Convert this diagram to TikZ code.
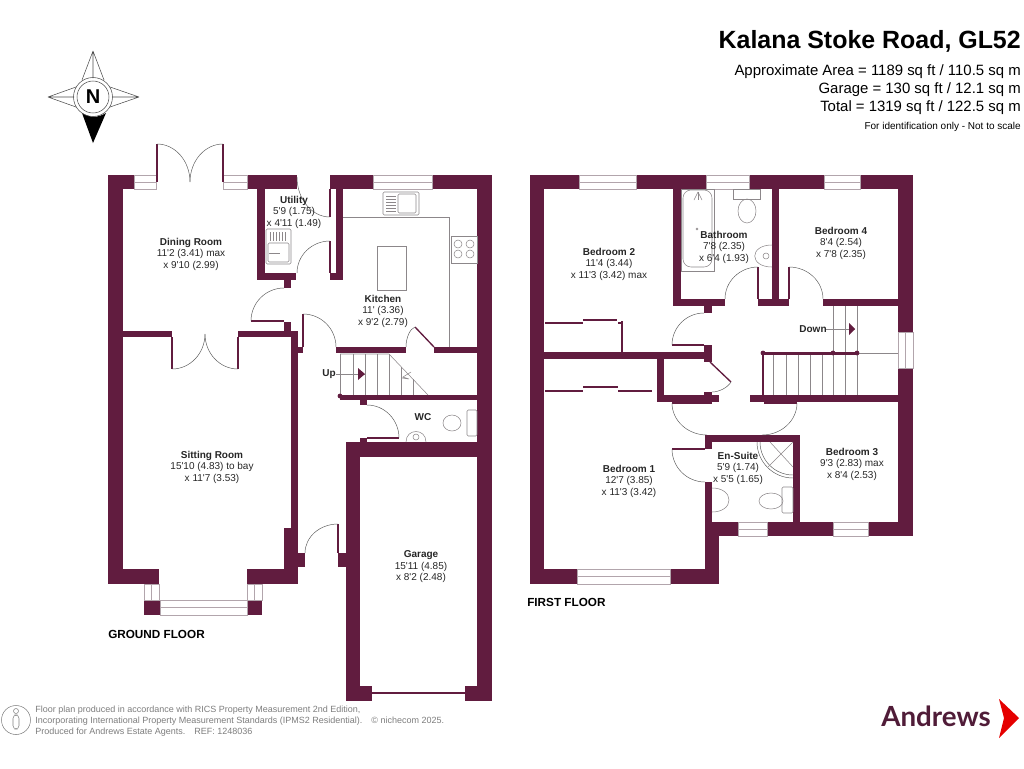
\documentclass[tikz,border=0pt]{standalone}
\usepackage{fontspec}
\usepackage{tikz}
\usetikzlibrary{calc}
\newfontfamily\planfont{Liberation Sans}
\newfontfamily\logofont{Lato}
\definecolor{plumwall}{RGB}{97,28,63}
\definecolor{logoplum}{RGB}{80,28,56}
\definecolor{paneline}{RGB}{178,165,172}
\definecolor{fittingline}{RGB}{140,135,138}
\definecolor{footgrey}{RGB}{125,125,125}
\tikzset{
    wallfill/.style={fill=plumwall},
    paneframe/.style={draw=paneline, fill=white, line width=0.5pt},
    swingline/.style={draw=black!65, line width=0.35pt},
    fitting/.style={draw=fittingline, line width=0.4pt},
    roomlabel/.style={font=\planfont\fontsize{7.5}{8.6}\selectfont, align=center, inner sep=0pt, text=black!85},
    headline/.style={font=\planfont\fontsize{11.2}{13}\selectfont, anchor=east, inner sep=0pt},
    floorlabel/.style={font=\planfont\bfseries\fontsize{8.8}{10}\selectfont, anchor=west, inner sep=0pt},
    footnote/.style={font=\planfont\fontsize{6.75}{8}\selectfont, anchor=west, inner sep=0pt, text=footgrey}
}
\begin{document}
\begin{tikzpicture}[x=0.75pt, y=-0.75pt]
    \useasboundingbox (0,0) rectangle (1024,768);

    % walls, ground floor
    \foreach \xa/\ya/\xb/\yb in {108/175/123/584, 108/175/134/189, 247/175/297/189, 330/175/373/189, 432/175/492/189,
        477/175/492/701, 257/175/265/280, 257/273/296/280, 284/280/291/288, 336/175/343/280, 330/273/343/280,
        123/331/172/337, 238/331/291/337, 284/322/291/331, 291/331/298/584, 284/528/298/584, 298/553/305/567,
        108/569/159/584, 247/569/298/584, 298/347/303/353, 336/347/406/353, 434/347/477/353,
        340/395/477/400, 360/400/367/405, 360/438/367/443, 346/442/492/457, 346/442/360/701,
        338/553/346/567, 360/686/372/701, 465/686/477/701, 372/692/465/694, 144/600/160/615, 247/600/262/615} {
        \fill[wallfill] (\xa,\ya) rectangle (\xb,\yb);
    }
    % walls, first floor
    \foreach \xa/\ya/\xb/\yb in {530/175/544/584, 530/175/579/189, 636/175/706/189, 749/175/824/189, 860/175/913/189,
        898/175/913/332, 898/368/913/536, 673/189/681/306, 673/299/725/306, 704/306/712/313, 758/299/789/306,
        772/189/779/306, 823/299/898/306, 544/352/705/359, 704/345/712/362, 621/321/623/352, 657/359/664/402,
        657/395/719/402, 704/392/712/404, 750/395/898/402, 705/435/800/442, 793/442/800/536, 705/435/712/449,
        705/482/712/584, 712/522/738/536, 767/522/833/536, 868/522/913/536, 705/536/719/584,
        530/569/577/584, 670/569/719/584} {
        \fill[wallfill] (\xa,\ya) rectangle (\xb,\yb);
    }
    % windows
    \foreach \xa/\ya/\xb/\yb in {134/175/156/189, 223/175/247/189, 373/175/432/189, 160/600/247/615,
        579/175/636/189, 706/175/749/189, 824/175/860/189, 738/522/767/536, 833/522/868/536, 577/569/670/584} {
        \draw[paneframe] (\xa,\ya) rectangle (\xb,\yb);
        \draw[paneline, line width=0.4pt] (\xa,{(\ya+\yb)/2}) -- (\xb,{(\ya+\yb)/2});
    }
    \foreach \xa/\ya/\xb/\yb in {144/584/159/600, 247/584/262/600, 898/332/913/368} {
        \draw[paneframe] (\xa,\ya) rectangle (\xb,\yb);
    }
    \draw[paneline, line width=0.4pt] (151,584) -- (151,600) (254,584) -- (254,600) (905,332) -- (905,368);

    % door leaves
    \foreach \xa/\ya/\xb/\yb in {157/144/157/182, 223/144/223/182, 330/189/330/217, 330/241/330/273, 172/337/172/369,
        238/337/238/369, 251/321/284/321, 303/314/303/347, 415/327/434/347, 367/438/399/438, 338/524/338/553,
        758/267/758/299, 789/267/789/299, 672/345/704/345, 710/362/731/382, 672/403/704/403, 764/403/797/403,
        672/449/705/449} {
        \draw[plumwall, line width=1pt] (\xa,\ya) -- (\xb,\yb);
    }
    % door swings
    \foreach \a/\d/\b in {{157,144}/{190,144}/{190,182}, {223,144}/{190,144}/{190,182}, {297,177}/{297,217}/{330,217},
        {330,241}/{297,241}/{297,273}, {172,369}/{205,369}/{205,334}, {238,369}/{205,369}/{205,334},
        {284,288}/{251,288}/{251,321}, {303,314}/{336,314}/{336,347}, {406,347}/{406,330}/{415,327},
        {367,405}/{399,405}/{399,438}, {338,524}/{305,524}/{305,553}, {758,267}/{725,267}/{725,299},
        {789,267}/{823,267}/{823,299}, {704,313}/{672,313}/{672,345}, {731,382}/{725,392}/{712,392},
        {672,403}/{672,435}/{707,435}, {797,403}/{797,435}/{762,435}, {672,449}/{672,482}/{705,482},
        {757,442}/{757,478}/{793,478}, {760,442}/{760,475}/{793,475}} {
        \draw[swingline] (\a) .. controls ($(\a)!.552!(\d)$) and ($(\b)!.552!(\d)$) .. (\b);
    }

    % kitchen and utility fittings
    \draw[fitting] (343,217) -- (449,217) -- (449,347);
    \draw[fitting] (377,246) rectangle (406,290);
    \draw[fitting, rounded corners=1pt] (383,192) rectangle (419,215);
    \draw[fitting, rounded corners=1pt] (398,194) rectangle (416,213);
    \foreach \y in {196,199,202,205,208,211} {\draw[fitting] (386,\y) -- (396,\y);}
    \draw[fitting] (451,236) rectangle (477,263);
    \foreach \x/\y in {458/244, 470/244, 458/254, 470/254} {\draw[fitting] (\x,\y) circle[radius=4];}
    \draw[fitting, rounded corners=1pt] (266,229) rectangle (291,264);
    \draw[fitting, rounded corners=1pt] (268,243) rectangle (289,262);
    \foreach \x in {270,273,276,279,282,285} {\draw[fitting] (\x,232) -- (\x,241);}
    \draw[fitting] (269,253) -- (280,253);

    % stairs, ground floor
    \foreach \x in {340,353,365,377,389} {\draw[fitting] (\x,354) -- (\x,395);}
    \draw[fitting] (340,354) -- (389,354) -- (428,395);
    \draw[fitting] (401,367) -- (401,395) (413,379) -- (413,395);
    \draw[fitting] (411,372) -- (403,377) -- (409,379) -- (402,378);
    \fill[plumwall] (340,396) circle[radius=2.4];
    \coordinate (upstart) at (336,374);
    \coordinate (uptip) at (365,374);
    \draw[fitting] (upstart) -- (uptip);
    \fill[plumwall] (358,368) -- (365,374) -- (358,380) -- cycle;
    \node[roomlabel, font=\planfont\bfseries\fontsize{7.5}{8.5}\selectfont] (uplabel) at (329,374) {Up};

    % wc
    \draw[fitting] (406,442) .. controls (406,428) and (426,428) .. (426,442);
    \draw[fitting] (416,437) circle[radius=3];
    \draw[fitting] (452,423) ellipse[x radius=9, y radius=8];
    \draw[fitting, rounded corners=1pt] (467,410) rectangle (477,436);

    % bathroom
    \draw[fitting] (681,189) rectangle (714,271);
    \draw[fitting, rounded corners=6pt] (683,190) rectangle (712,267);
    \draw[fitting] (733,189) rectangle (760,199);
    \draw[fitting] (747,211) ellipse[x radius=9, y radius=12];
    \draw[fitting] (772,245) .. controls (749,245) and (749,267) .. (772,267);
    \draw[fitting] (766,256) circle[radius=3];
    \foreach \x in {694,698,702} {\draw[fitting] (698,192) -- (\x,200);}
    \draw[fitting] (697,229) circle[radius=1];

    % stairs, first floor
    \foreach \x in {773,786,798,810,822,833,845,857} {\draw[fitting] (\x,353) -- (\x,395);}
    \foreach \x in {833,845,857} {\draw[fitting] (\x,306) -- (\x,353);}
    \draw[fitting] (857,353) -- (898,353);
    \fill[plumwall] (762,353) rectangle (764,395);
    \fill[plumwall] (763,352) rectangle (857,354.5);
    \foreach \x in {763,833,857} {\fill[plumwall] (\x,353) circle[radius=2.4];}
    \coordinate (downstart) at (826,329);
    \coordinate (downtip) at (855,329);
    \draw[fitting] (downstart) -- (downtip);
    \fill[plumwall] (849,323) -- (855,329) -- (849,335) -- cycle;
    \node[roomlabel, font=\planfont\bfseries\fontsize{7.5}{8.5}\selectfont] (downlabel) at (813,329) {Down};

    % sliding doors
    \foreach \xa/\ya/\xb in {545/323/583, 583/320/617, 618/323/621, 545/391/583, 583/387/618, 618/391/652} {
        \draw[plumwall, line width=0.8pt] (\xa,\ya) -- (\xb,\ya);
    }

    % en-suite
    \draw[fitting] (712,488) .. controls (722,488) and (729,493) .. (729,500) .. controls (729,507) and (722,512) .. (712,512);
    \draw[fitting] (771,501) ellipse[x radius=12, y radius=8];
    \draw[fitting, rounded corners=1pt] (782,487) rectangle (793,513);
    \draw[fitting] (793,442) -- (768,467) (770,442) -- (793,467);

    % room labels
    \node[roomlabel] (diningroom) at (191,254) {\textbf{Dining Room}\\11'2 (3.41) max\\x 9'10 (2.99)};
    \node[roomlabel] (utility) at (294,212) {\textbf{Utility}\\5'9 (1.75)\\x 4'11 (1.49)};
    \node[roomlabel] (kitchen) at (383,311) {\textbf{Kitchen}\\11' (3.36)\\x 9'2 (2.79)};
    \node[roomlabel] (sittingroom) at (212,467) {\textbf{Sitting Room}\\15'10 (4.83) to bay\\x 11'7 (3.53)};
    \node[roomlabel] (wc) at (423,417) {\textbf{WC}};
    \node[roomlabel] (garage) at (421,567) {\textbf{Garage}\\15'11 (4.85)\\x 8'2 (2.48)};
    \node[roomlabel] (bedroomtwo) at (609,264) {\textbf{Bedroom 2}\\11'4 (3.44)\\x 11'3 (3.42) max};
    \node[roomlabel] (bathroom) at (724,247) {\textbf{Bathroom}\\7'8 (2.35)\\x 6'4 (1.93)};
    \node[roomlabel] (bedroomfour) at (841,243) {\textbf{Bedroom 4}\\8'4 (2.54)\\x 7'8 (2.35)};
    \node[roomlabel] (bedroomone) at (629,481) {\textbf{Bedroom 1}\\12'7 (3.85)\\x 11'3 (3.42)};
    \node[roomlabel] (ensuite) at (738,468) {\textbf{En-Suite}\\5'9 (1.74)\\x 5'5 (1.65)};
    \node[roomlabel] (bedroomthree) at (852,464) {\textbf{Bedroom 3}\\9'3 (2.83) max\\x 8'4 (2.53)};
    \node[floorlabel] (groundfloor) at (108,634) {GROUND FLOOR};
    \node[floorlabel] (firstfloor) at (527,602) {FIRST FLOOR};

    % heading
    \node[headline, font=\planfont\bfseries\fontsize{18.7}{22}\selectfont] (title) at (1021,41) {Kalana Stoke Road, GL52};
    \node[headline] (arealine) at (1021,72) {Approximate Area = 1189 sq ft / 110.5 sq m};
    \node[headline] (garageline) at (1021,90) {Garage = 130 sq ft / 12.1 sq m};
    \node[headline] (totalline) at (1021,108) {Total = 1319 sq ft / 122.5 sq m};
    \node[headline, font=\planfont\fontsize{7.5}{9}\selectfont] (scaleline) at (1021,127) {For identification only - Not to scale};

    % compass
    \draw[black!70, line width=0.4pt] (93,51) -- (82,80) (93,51) -- (104,80) (93,51) -- (93,78)
        (48,97) -- (76,87) (48,97) -- (76,107) (48,97) -- (74,97)
        (139,97) -- (110,87) (139,97) -- (110,107) (139,97) -- (112,97);
    \fill[black] (82,113) -- (93,143) -- (106,113) .. controls (98,118) and (90,118) .. (82,113) -- cycle;
    \draw[black!70, line width=0.4pt] (93,97) circle[radius=19.5] (93,97) circle[radius=16];
    \node[inner sep=0pt, font=\planfont\bfseries\fontsize{15}{15}\selectfont] (north) at (93,97) {N};

    % footer
    \draw[black!50, line width=0.4pt] (16,720) circle[radius=14.5];
    \draw[black!50, line width=0.4pt] (16,711) circle[radius=2.5];
    \draw[black!50, line width=0.4pt, rounded corners=2.5pt] (13,715) rectangle (19,729);
    \node[footnote] (footone) at (35,710) {Floor plan produced in accordance with RICS Property Measurement 2nd Edition,};
    \node[footnote] (foottwo) at (35,721) {Incorporating International Property Measurement Standards (IPMS2 Residential).\hspace{1em}© nichecom 2025.};
    \node[footnote] (footthree) at (35,732) {Produced for Andrews Estate Agents.\hspace{1em}REF: 1248036};

    % logo
    \node[inner sep=0pt, anchor=east, text=logoplum, font=\logofont\bfseries\fontsize{20.8}{21}\selectfont] (logotext) at (991,716) {Andrews};
    \fill[red!90!black] (999,699) -- (1019,718) -- (999,738) -- (1004,718) -- cycle;
\end{tikzpicture}
\end{document}
